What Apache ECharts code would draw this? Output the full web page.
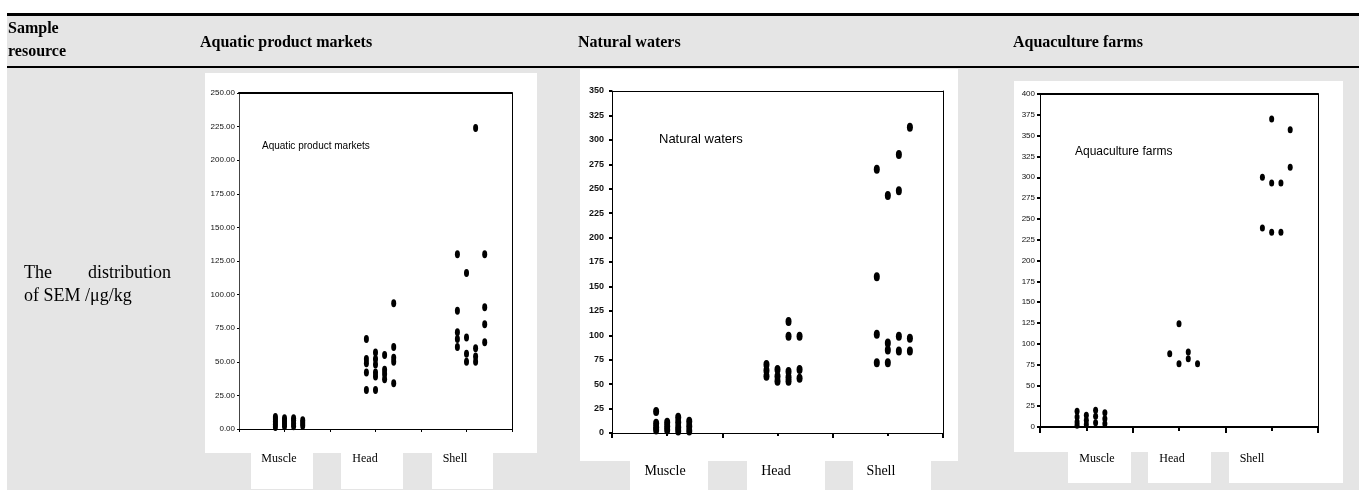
<!DOCTYPE html>
<html><head><meta charset="utf-8">
<script src="https://cdn.jsdelivr.net/npm/echarts@6/dist/echarts.min.js"></script>
<style>html,body{margin:0;padding:0;background:#fff}#c{width:1359px;height:490px}</style>
</head><body><div id="c"></div>
<script>
// ---------- data ----------
const categories = ['Muscle', 'Head', 'Shell'];
const columnOffsets = [-0.1, 0, 0.1, 0.2]; // x jitter of the four sub-columns inside each category

// Aquatic product markets (µg/kg)
const marketsMuscle = [[1.5, 3.5, 5.5, 7.5, 9], [2, 4, 6, 8], [2, 4, 6.5, 8], [2.5, 4.5, 6.5]];
const marketsHead = [[67, 52, 49, 42, 29], [57, 52, 48, 42, 39, 29], [55, 44, 41, 37], [93.5, 61, 53, 50, 34]];
const marketsShell = [[130, 88, 72, 67, 61], [116, 68, 56, 50], [224, 60, 54, 50], [130, 90.5, 78, 64.5]];
const marketsYTicks = [0, 250, 25];

// Natural waters
const watersMuscle = [[22, 10, 6, 3], [11, 7, 3], [16, 11, 6, 2], [12, 7, 2]];
const watersHead = [[70, 64, 58], [65, 58, 53], [114, 99, 63, 57, 53], [99, 65, 56]];
const watersShell = [[270, 160, 101, 72], [243, 92, 85, 72], [285, 248, 99, 84], [313, 97, 84]];
const watersYTicks = [0, 350, 25];

// Aquaculture farms
const farmsMuscle = [[19, 12, 6, 2], [14, 8, 3], [20, 13, 5], [17, 10, 4]];
const farmsHead = [[88], [124, 76], [90, 82], [76]];
const farmsShell = [[300, 239], [370, 293, 234], [293, 234], [357, 312]];
const farmsYTicks = [0, 400, 25];

const panelTitles = ['Aquatic product markets', 'Natural waters', 'Aquaculture farms'];
const headerFirst = ['Sample', 'resource'];
const rowLabel = ['The', 'distribution', 'of SEM /\u03bcg/kg'];

// ---------- build ----------
function points(groups) {
  const out = [];
  groups.forEach((cols, ci) => cols.forEach((vals, j) => vals.forEach(v => out.push([ci + 1 + columnOffsets[j], v]))));
  return out;
}
const chartData = [
  points([marketsMuscle, marketsHead, marketsShell]),
  points([watersMuscle, watersHead, watersShell]),
  points([farmsMuscle, farmsHead, farmsShell])
];
const yTicks = [marketsYTicks, watersYTicks, farmsYTicks];

const grids = [
  {left: 239, top: 93, width: 273, height: 336},
  {left: 612, top: 91, width: 331, height: 342},
  {left: 1040, top: 94, width: 278, height: 333}
];
const styles = [
  {top: 2, right: 1, bottom: 1, left: 1, leftColor: '#444', xTick: 3, xMinor: 3, xTickW: 1, yTick: 2, yTickW: 1, lblSize: 8, lblMargin: 4, lblBold: 'normal', sym: [5, 8], fmt: v => v.toFixed(2)},
  {top: 1, right: 1, bottom: 1, left: 1, leftColor: '#000', xTick: 5, xMinor: 3, xTickW: 2, yTick: 3, yTickW: 2, lblSize: 9, lblMargin: 8, lblBold: 'bold', sym: [6, 9], fmt: v => String(v)},
  {top: 2, right: 1, bottom: 2, left: 1, leftColor: '#000', xTick: 6, xMinor: 4, xTickW: 2, yTick: 3, yTickW: 2, lblSize: 8, lblMargin: 5, lblBold: 'normal', sym: [5, 7], fmt: v => String(v)}
];

const xAxis = [], yAxis = [], series = [];
grids.forEach((g, i) => {
  const s = styles[i];
  const yt = yTicks[i];
  xAxis.push({
    gridIndex: i, type: 'value', min: 0.5, max: 3.5, interval: 1, position: 'bottom', z: 3,
    axisLine: {show: true, onZero: false, lineStyle: {color: '#000', width: s.bottom}},
    axisTick: {show: true, inside: false, length: s.xTick, lineStyle: {color: '#000', width: s.xTickW}},
    minorTick: {show: true, splitNumber: 2, length: s.xMinor, lineStyle: {color: '#000', width: s.xTickW}},
    axisLabel: {show: false}, splitLine: {show: false}, minorSplitLine: {show: false}
  });
  xAxis.push({
    gridIndex: i, type: 'value', min: 0.5, max: 3.5, interval: 1, position: 'top', z: 3,
    axisLine: {show: true, onZero: false, lineStyle: {color: '#000', width: s.top}},
    axisTick: {show: false}, axisLabel: {show: false}, splitLine: {show: false}
  });
  yAxis.push({
    gridIndex: i, type: 'value', min: yt[0], max: yt[1], interval: yt[2], position: 'left', z: 3,
    axisLine: {show: true, onZero: false, lineStyle: {color: s.leftColor, width: s.left}},
    axisTick: {show: true, inside: false, length: s.yTick, lineStyle: {color: '#000', width: s.yTickW}},
    axisLabel: {show: true, margin: s.lblMargin, color: '#111', fontSize: s.lblSize, fontWeight: s.lblBold,
      fontFamily: 'Liberation Sans', formatter: s.fmt},
    splitLine: {show: false}
  });
  yAxis.push({
    gridIndex: i, type: 'value', min: yt[0], max: yt[1], interval: yt[2], position: 'right', z: 3,
    axisLine: {show: true, onZero: false, lineStyle: {color: '#000', width: s.right}},
    axisTick: {show: false}, axisLabel: {show: false}, splitLine: {show: false}
  });
  series.push({
    type: 'scatter', xAxisIndex: 2 * i, yAxisIndex: 2 * i, z: 4,
    symbol: 'circle', symbolSize: s.sym, itemStyle: {color: '#000', opacity: 1},
    data: chartData[i], animation: false, silent: true
  });
});

// ---------- table decoration ----------
function rect(x, y, w, h, fill, z) { return {type: 'rect', shape: {x, y, width: w, height: h}, style: {fill}, z: z || 0, silent: true}; }
function text(t, x, y, font, align) {
  return {type: 'text', x, y, z: 10, silent: true,
    style: {text: t, font, fill: '#000', textAlign: align || 'left', textVerticalAlign: 'middle', align: align || 'left', verticalAlign: 'middle'}};
}
const G = [];
G.push(rect(7, 13, 1352, 477, '#e5e5e5', 0));
G.push(rect(7, 13, 1352, 3, '#000', 1));
G.push(rect(7, 66, 1352, 2, '#000', 1));
// white chart panels
G.push(rect(205, 73, 332, 380, '#fff', 1));
G.push(rect(580, 69, 378, 392, '#fff', 1));
G.push(rect(1014, 81, 329, 371, '#fff', 1));
// category label boxes
[[251, 453, 62, 36], [341, 453, 62, 36], [432, 453, 61, 36],
 [630, 461, 78, 29], [747, 461, 78, 29], [853, 461, 78, 29],
 [1068, 452, 63, 31], [1148, 452, 63, 31], [1229, 427, 114, 56]].forEach(b => G.push(rect(b[0], b[1], b[2], b[3], '#fff', 1)));

const HF = 'bold 16px "Liberation Serif", "Times New Roman", serif';
G.push(text(headerFirst[0], 8, 29, HF));
G.push(text(headerFirst[1], 8, 52, HF));
G.push(text(panelTitles[0], 200, 43, HF));
G.push(text(panelTitles[1], 578, 43, HF));
G.push(text(panelTitles[2], 1013, 43, HF));
const RF = '18px "Liberation Serif", "Times New Roman", serif';
G.push(text(rowLabel[0], 24, 273, RF));
G.push(text(rowLabel[1], 171, 273, RF, 'right'));
G.push(text(rowLabel[2], 24, 296, RF));
// in-plot annotations
G.push(text(panelTitles[0], 262, 146, '10px "Liberation Sans", Arial, sans-serif'));
G.push(text(panelTitles[1], 659, 139, '13px "Liberation Sans", Arial, sans-serif'));
G.push(text(panelTitles[2], 1075, 152, '12px "Liberation Sans", Arial, sans-serif'));
// category labels
const CF1 = '12px "Liberation Serif", serif', CF2 = '14px "Liberation Serif", serif';
[[279, 459, CF1], [365, 459, CF1], [455, 459, CF1]].forEach((p, k) => G.push(text(categories[k], p[0], p[1], p[2], 'center')));
[[665, 471, CF2], [776, 471, CF2], [881, 471, CF2]].forEach((p, k) => G.push(text(categories[k], p[0], p[1], p[2], 'center')));
[[1097, 459, CF1], [1172, 459, CF1], [1252, 459, CF1]].forEach((p, k) => G.push(text(categories[k], p[0], p[1], p[2], 'center')));

const chart = echarts.init(document.getElementById('c'), null, {renderer: 'canvas'});
chart.setOption({
  animation: false,
  backgroundColor: '#fff',
  grid: grids.map(g => Object.assign({containLabel: false, show: false}, g)),
  xAxis, yAxis, series,
  graphic: {elements: G}
});
</script></body></html>
